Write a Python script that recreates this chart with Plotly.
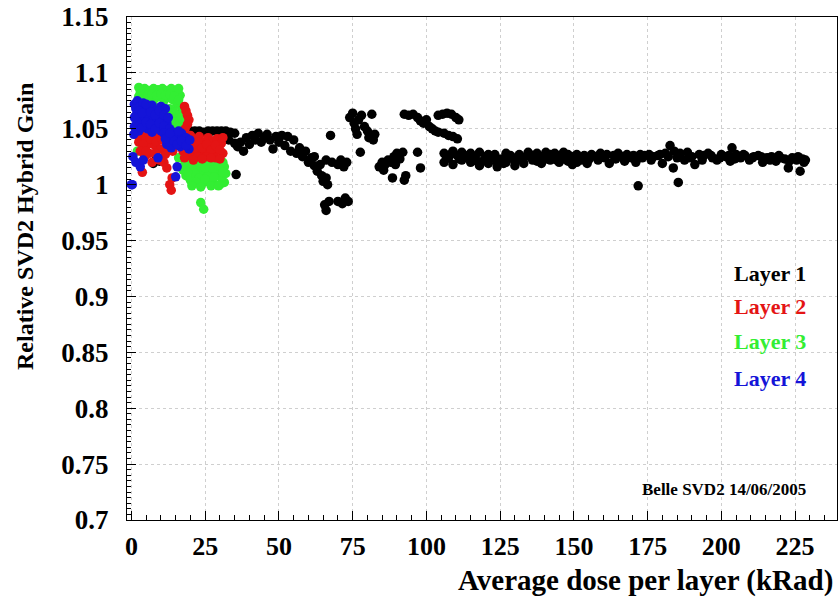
import plotly.graph_objects as go

# ---- data: (dose kRad, relative gain) ----
layer1 = [
    (7.4, 1.019), (8.5, 1.025), (9.5, 1.021),
    (17.5, 1.066), (18, 1.062), (18.3, 1.058), (18.6, 1.054), (18.8, 1.05), (19, 1.046),
    (19.3, 1.042), (18.5, 1.038), (19.5, 1.036),
    (20, 1.048), (21.5, 1.048), (23, 1.048), (24.5, 1.047), (26, 1.048), (27.5, 1.048),
    (29, 1.048), (30.5, 1.048), (32, 1.048), (33.5, 1.047), (35, 1.046), (35.5, 1.009),
    (33, 1.04), (35, 1.037), (36, 1.034), (37, 1.038), (38, 1.03), (39, 1.042), (40, 1.036),
    (41, 1.044), (42, 1.04), (43, 1.046), (44, 1.038), (45, 1.042), (46, 1.045), (47, 1.04),
    (48, 1.032), (49, 1.043), (50, 1.038), (51, 1.044), (52, 1.035), (53, 1.043), (54, 1.03),
    (55, 1.04), (56, 1.028), (57, 1.033), (58, 1.025), (59, 1.03), (60, 1.02), (61, 1.024),
    (62, 1.017), (63, 1.012), (64, 1.018), (64.5, 1.008), (65, 1.003), (66, 1.006), (66.5, 1.0),
    (65.5, 0.982), (66, 0.977), (67, 0.985), (67.5, 1.044),
    (62, 1.025), (66, 1.022), (68, 1.02), (70, 1.018), (71, 1.022), (72, 1.016), (73, 1.02),
    (70, 0.985), (71.5, 0.983), (72.5, 0.988), (73.5, 0.985),
    (74, 1.06), (75, 1.064), (75.5, 1.055), (76, 1.05), (76.5, 1.045), (77, 1.058), (78, 1.062),
    (79, 1.052), (80, 1.048), (80.5, 1.042), (81.5, 1.063), (82, 1.04), (82.5, 1.045), (77.6, 1.029),
    (84, 1.016), (85, 1.02), (85.5, 1.013), (86, 1.018), (87, 1.022), (88, 1.02), (89, 1.025),
    (89.5, 1.018), (90, 1.028), (91, 1.023), (92, 1.029), (88.5, 1.006), (92.5, 1.004), (93, 1.008),
    (97, 1.029), (98, 1.015),
    (92.5, 1.063), (94, 1.062), (95.5, 1.063), (97, 1.06), (98, 1.057), (99, 1.055), (100, 1.058),
    (101, 1.052), (102, 1.05), (103, 1.048), (104, 1.047), (104, 1.062), (105.5, 1.063),
    (107, 1.064), (108.5, 1.063), (110, 1.06), (111, 1.058), (106, 1.046), (107.5, 1.044),
    (109, 1.043), (110.5, 1.041),
    (106, 1.028), (106, 1.02), (107.5, 1.024), (109, 1.03), (109, 1.018), (110.5, 1.026),
    (112, 1.029), (112, 1.022), (113.5, 1.025), (115, 1.028), (115, 1.02), (116.5, 1.024),
    (118, 1.029), (118, 1.017), (119.5, 1.022), (121, 1.027), (121, 1.019), (122.5, 1.024),
    (124, 1.02), (124, 1.016), (125.5, 1.023), (127, 1.028), (127, 1.02), (128.5, 1.026),
    (130, 1.021), (130, 1.017), (131.5, 1.027), (133, 1.024), (133, 1.019), (134.5, 1.029),
    (136, 1.026), (136, 1.022), (137.5, 1.028), (137.5, 1.021), (139, 1.025), (139, 1.019),
    (140.5, 1.029), (140.5, 1.023), (142, 1.027), (142, 1.022), (143.5, 1.028), (143.5, 1.024),
    (145, 1.026), (145, 1.02), (146.5, 1.029), (146.5, 1.023), (148, 1.027), (148, 1.021),
    (149.5, 1.025), (149.5, 1.018), (151, 1.027), (151, 1.02),
    (152.5, 1.022), (154.5, 1.019), (156, 1.027), (157.5, 1.025), (159, 1.028), (160.5, 1.024),
    (162, 1.019), (163.5, 1.026), (165, 1.028), (166.5, 1.025), (168, 1.027), (169.5, 1.024),
    (171, 1.02), (171.8, 0.999), (172.5, 1.027), (174, 1.026), (175.5, 1.027), (177, 1.025),
    (178.5, 1.026), (180, 1.019), (181, 1.028), (182.6, 1.035), (183.7, 1.015), (184, 1.03),
    (185.4, 1.002), (186, 1.028), (187.5, 1.022), (188.5, 1.029), (190, 1.025), (191, 1.018),
    (192.5, 1.027), (194, 1.026), (195.5, 1.028), (197, 1.024), (198.5, 1.022), (200, 1.027),
    (201.5, 1.025), (203, 1.021), (203.6, 1.033), (205, 1.027), (206.5, 1.024), (208, 1.026),
    (209.5, 1.022), (211, 1.025), (212.5, 1.026), (214, 1.02), (215.5, 1.024), (217, 1.025),
    (218.5, 1.021), (220, 1.024), (221.5, 1.023), (222.7, 1.015), (224, 1.024), (225.5, 1.022),
    (226.7, 1.012), (227.5, 1.023), (228.5, 1.022),
    (106.8, 1.025), (108.2, 1.027), (111.2, 1.023), (114.2, 1.026), (117.2, 1.021), (120.2, 1.025),
    (123.2, 1.027), (126.2, 1.019), (129.2, 1.024), (132.2, 1.022), (135.2, 1.025), (138.2, 1.024),
    (141.2, 1.026), (144.2, 1.022), (147.2, 1.025), (150.2, 1.023), (153.5, 1.026), (155.2, 1.023),
    (158.2, 1.022), (161.2, 1.027), (164.2, 1.023), (167.2, 1.021), (170.2, 1.026), (173.2, 1.024),
    (176.2, 1.022), (179.2, 1.027), (182, 1.025), (185, 1.024), (189, 1.024), (193.5, 1.022),
    (196.5, 1.026), (199.5, 1.024), (202.5, 1.026), (204.5, 1.023), (207.5, 1.027), (210.5, 1.024),
    (213.5, 1.025), (216.5, 1.022), (219.5, 1.026), (223, 1.021), (226, 1.025), (228, 1.02),
]

layer3 = [
    (3, 1.083), (4.5, 1.086), (6, 1.084), (7.5, 1.086), (9, 1.085), (10.5, 1.086), (12, 1.084),
    (13.5, 1.086), (15, 1.083), (16.5, 1.08),
    (3.5, 1.075), (5, 1.078), (6.5, 1.074), (8, 1.077), (9.5, 1.079), (11, 1.075), (12.5, 1.078),
    (14, 1.076), (15.5, 1.072), (17, 1.07),
    (13, 1.068), (14.5, 1.065), (16, 1.062), (15, 1.058), (16.5, 1.055), (14, 1.06), (12.5, 1.063),
    (2.5, 1.079), (4, 1.081), (5.5, 1.08), (7, 1.081), (8.5, 1.08), (10, 1.081), (11.5, 1.08),
    (13, 1.081), (14.5, 1.079), (16, 1.076), (17.5, 1.066), (4, 1.069), (6, 1.068), (8, 1.069),
    (10, 1.067), (11.5, 1.062), (13.5, 1.057), (15.5, 1.052), (17, 1.06), (2.5, 1.087), (16, 1.086),
    (18, 1.018), (19.5, 1.014), (21, 1.02), (22.5, 1.016), (24, 1.012), (25.5, 1.018), (27, 1.015),
    (28.5, 1.019), (30, 1.014), (31.5, 1.016),
    (18.5, 1.008), (20, 1.004), (21.5, 1.01), (23, 1.006), (24.5, 1.002), (26, 1.008), (27.5, 1.004),
    (29, 1.01), (30.5, 1.006), (31.5, 1.002),
    (17.5, 1.013), (19, 1.02), (20.5, 1.017), (22, 1.021), (23.5, 1.019), (25, 1.015), (26.5, 1.021),
    (28, 1.013), (29.5, 1.017), (31, 1.02), (32, 1.01), (19, 1.011), (22, 1.002), (25, 1.005),
    (28, 1.007), (30, 1.0), (31, 1.011),
    (20.5, 0.999), (23.5, 0.998), (27, 0.999), (29.5, 0.999),
    (23.5, 0.984), (24.5, 0.978), (2, 1.03), (16, 1.024),
]

layer2 = [
    (1.5, 1.05), (3, 1.046), (4.5, 1.042), (6, 1.045), (7.5, 1.04), (9, 1.043), (2.5, 1.038),
    (5.5, 1.036), (8, 1.035),
    (2, 1.044), (4, 1.036), (6.5, 1.041), (8.5, 1.038), (10.5, 1.04),
    (17, 1.042), (18.5, 1.038), (20, 1.044), (21.5, 1.04), (23, 1.043), (24.5, 1.038), (26, 1.042),
    (27.5, 1.039), (29, 1.041), (30.5, 1.037),
    (17.5, 1.03), (19, 1.034), (20.5, 1.028), (22, 1.032), (23.5, 1.026), (25, 1.03), (26.5, 1.034),
    (28, 1.028), (29.5, 1.032), (31, 1.028),
    (17.5, 1.036), (19.5, 1.04), (21, 1.036), (22.5, 1.038), (24, 1.033), (25.5, 1.036), (27, 1.031),
    (28.5, 1.035), (30, 1.031), (31, 1.042), (19.5, 1.026), (22.5, 1.025), (25.5, 1.025),
    (28.5, 1.024), (16.5, 1.045),
    (18, 1.024), (21, 1.022), (24, 1.023), (27, 1.024), (30, 1.023),
    (18, 1.07), (18.5, 1.066), (19, 1.062), (19.5, 1.058), (19, 1.054), (18.2, 1.05),
    (3, 1.03), (4.5, 1.025), (6, 1.028), (7, 1.02), (10, 1.032), (11.5, 1.027), (12.5, 1.034),
    (14, 1.03), (5, 1.03), (8, 1.028), (9.5, 1.022), (11, 1.02),
    (3.7, 1.011), (13, 1.0), (13.8, 1.006), (13.5, 0.995), (12, 1.015),
]

layer4 = [
    (1, 1.072), (2, 1.075), (3, 1.07), (4, 1.073), (5.5, 1.068), (7, 1.071), (8.5, 1.066), (10, 1.07),
    (11.5, 1.068), (1.5, 1.062), (3, 1.058), (4.5, 1.063), (6, 1.06), (7.5, 1.056), (9, 1.061),
    (10.5, 1.058), (12, 1.055), (1, 1.052), (2.5, 1.048), (4, 1.053), (5.5, 1.05), (7, 1.047),
    (8.5, 1.052), (10, 1.048),
    (1.5, 1.068), (2.5, 1.066), (3.5, 1.064), (5, 1.072), (6.5, 1.065), (8, 1.062), (9.5, 1.066),
    (11, 1.062), (12.5, 1.06), (2, 1.056), (3.5, 1.051), (5, 1.056), (6.5, 1.054), (8, 1.05),
    (9.5, 1.055), (11, 1.052), (13, 1.05), (1, 1.06), (0.8, 1.045),
    (11, 1.046), (12.5, 1.043), (14, 1.047), (15.5, 1.044), (17, 1.046), (18.5, 1.042), (12, 1.036),
    (13.5, 1.033), (15, 1.038), (16.5, 1.034), (18, 1.036), (19.5, 1.032),
    (12.5, 1.038), (14, 1.04), (15.5, 1.036), (17, 1.039), (18.5, 1.035), (19.8, 1.04), (11.5, 1.041),
    (13, 1.046), (16, 1.048),
    (0.5, 1.025), (1.5, 1.02), (3, 1.016), (4, 1.022), (9, 1.024), (15.5, 1.016), (15, 1.007),
    (0, 1.0), (0.3, 1.0),
]

layer_names = ["Layer 1", "Layer 2", "Layer 3", "Layer 4"]
layer_colors = ["#000000", "#e41414", "#33ee33", "#1414d8"]

x_ticks = [0, 25, 50, 75, 100, 125, 150, 175, 200, 225]
y_ticks = [0.7, 0.75, 0.8, 0.85, 0.9, 0.95, 1.0, 1.05, 1.1, 1.15]
y_tick_labels = ["0.7", "0.75", "0.8", "0.85", "0.9", "0.95", "1", "1.05", "1.1", "1.15"]

FONT = "Liberation Serif"

fig = go.Figure()
# drawing order: layer 1, layer 3, layer 2, layer 4
for data, idx in [(layer1, 0), (layer3, 2), (layer2, 1), (layer4, 3)]:
    fig.add_trace(go.Scatter(
        x=[p[0] for p in data], y=[p[1] for p in data],
        mode="markers", name=layer_names[idx], showlegend=False,
        marker=dict(size=9.5, color=layer_colors[idx], line=dict(width=0)),
        cliponaxis=False,
    ))

axis_common = dict(
    showline=True, linecolor="black", linewidth=1, mirror=True,
    ticks="inside", ticklen=9, tickcolor="black",
    showgrid=True, gridcolor="#cfcfcf", griddash="dot", gridwidth=1,
    zeroline=False,
)

fig.update_xaxes(
    range=[-1.5, 239.2], tickvals=x_ticks, ticklabelstandoff=3,
    tickfont=dict(family=FONT, size=26, color="black", weight="bold"),
    minor=dict(dtick=5, ticks="inside", ticklen=5, tickcolor="black", showgrid=False),
    **axis_common,
)
fig.update_yaxes(
    range=[0.7, 1.15], tickvals=y_ticks, ticktext=y_tick_labels, ticklabelstandoff=12,
    tickfont=dict(family=FONT, size=27, color="black", weight="bold"),
    minor=dict(dtick=0.005, ticks="inside", ticklen=4, tickcolor="black", showgrid=False),
    **axis_common,
)

annotations = [
    dict(text="Relative SVD2 Hybrid Gain", xref="paper", yref="paper",
         x=-0.1437, y=0.5845, xanchor="center", yanchor="middle", textangle=-90,
         showarrow=False, font=dict(family=FONT, size=24, color="black", weight="bold")),
    dict(text="Average dose per layer (kRad)", xref="paper", yref="paper",
         x=0.997, y=-0.121, xanchor="right", yanchor="middle",
         showarrow=False, font=dict(family=FONT, size=29, color="black", weight="bold")),
    dict(text="Belle SVD2 14/06/2005", xref="paper", yref="paper",
         x=0.959, y=0.06, xanchor="right", yanchor="middle",
         showarrow=False, font=dict(family=FONT, size=17, color="black", weight="bold")),
]
legend_y = [0.491, 0.4235, 0.354, 0.282]
for name, col, yy in zip(layer_names, layer_colors, legend_y):
    annotations.append(dict(text=name, xref="paper", yref="paper", x=0.959, y=yy,
                            xanchor="right", yanchor="middle", showarrow=False,
                            font=dict(family=FONT, size=22, color=col, weight="bold")))

fig.update_layout(
    width=838, height=598,
    margin=dict(l=127, r=1, t=17, b=78),
    paper_bgcolor="white", plot_bgcolor="white",
    annotations=annotations,
    showlegend=False,
)

fig.write_html("out.html")
